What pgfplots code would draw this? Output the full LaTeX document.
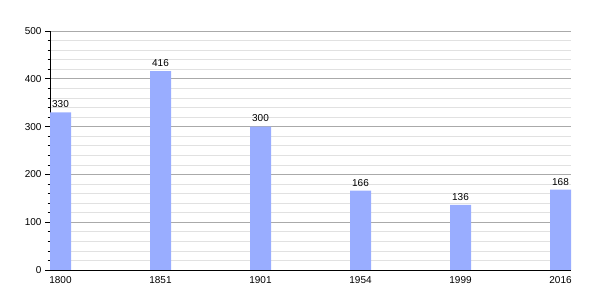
\documentclass[border=0pt]{standalone}
\usepackage{pgfplots}
\pgfplotsset{compat=1.18}
\usepackage{fontspec}
\setmainfont{Liberation Sans}
\definecolor{barblue}{RGB}{153,173,255}
\definecolor{majgrid}{RGB}{170,170,170}
\definecolor{mingrid}{RGB}{225,225,225}
\begin{document}
\begin{tikzpicture}
\useasboundingbox (0,0) rectangle (600pt,300pt);
\begin{axis}[
  at={(50pt,30pt)}, anchor=south west,
  scale only axis, width=521pt, height=239pt,
  xmin=-0.105, xmax=5.105, ymin=0, ymax=500,
  axis x line*=bottom, axis y line*=left,
  axis line style={black, line width=0.9pt},
  ytick={0,100,...,500}, minor y tick num=4,
  ymajorgrids, yminorgrids,
  major grid style={majgrid, line width=0.6pt},
  minor grid style={mingrid, line width=0.6pt},
  xtick={0,...,5}, xticklabels={1800,1851,1901,1954,1999,2016},
  x tick style={draw=none},
  tick align=outside, major tick length=5pt, minor tick length=2.5pt,
  y tick style={black, line width=0.6pt},
  x tick label style={yshift=2pt},
  ticklabel style={font=\fontsize{10}{12}\selectfont},
  /pgf/number format/assume math mode=true,
  ybar, bar width=21pt, bar shift=0pt,
  nodes near coords,
  every node near coord/.append style={font=\fontsize{10}{12}\selectfont, black, yshift=1pt},
]
\addplot[fill=barblue, draw=none] coordinates {(0,330) (1,416) (2,300) (3,166) (4,136) (5,168)};
\end{axis}
\end{tikzpicture}
\end{document}
